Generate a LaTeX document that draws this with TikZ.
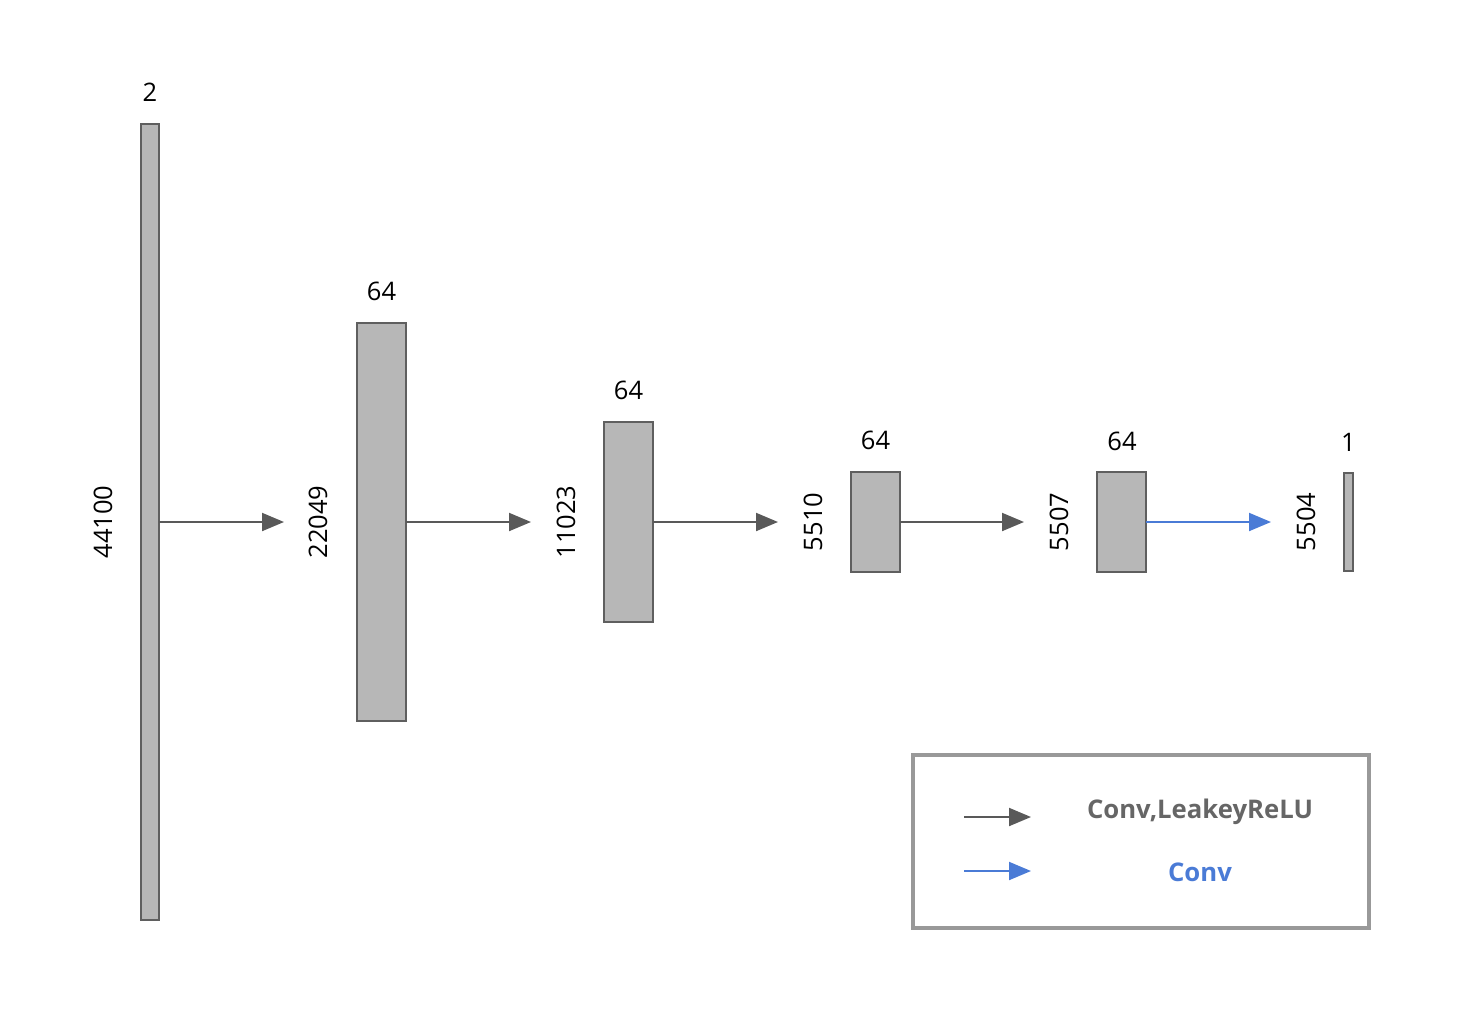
\documentclass[tikz,border=0pt]{standalone}
\usepackage{fontspec}
\setmainfont{Open Sans}
\usetikzlibrary{arrows.meta}
\definecolor{barfill}{HTML}{B7B7B7}
\definecolor{bardraw}{HTML}{5F5F5F}
\definecolor{arrgray}{HTML}{595959}
\definecolor{arrblue}{HTML}{4A7BD6}
\definecolor{legframe}{HTML}{999999}
\definecolor{legtext}{HTML}{666666}
\tikzset{
  bar/.style={draw=bardraw, fill=barfill, line width=2pt, inner sep=0pt, outer sep=0pt},
  lab/.style={inner sep=0pt, font=\fontsize{25.5}{30}\selectfont},
  vlab/.style={lab, rotate=90},
  conn/.style={draw=arrgray, line width=2pt, -{Triangle[length=22pt,width=18pt]}},
  connb/.style={conn, draw=arrblue, fill=arrblue},
  legtxt/.style={inner sep=0pt, font=\fontsize{25.7}{30}\selectfont\bfseries}
}
\begin{document}
\begin{tikzpicture}[x=1pt,y=-1pt]
\useasboundingbox (0,0) rectangle (1462,1020);
% bars
\node[bar, minimum width=18pt, minimum height=796pt] (b1) at (150,522) {};
\node[bar, minimum width=49pt, minimum height=398pt] (b2) at (381.5,522) {};
\node[bar, minimum width=49pt, minimum height=200pt] (b3) at (628.5,522) {};
\node[bar, minimum width=49pt, minimum height=100pt] (b4) at (875.5,522) {};
\node[bar, minimum width=49pt, minimum height=100pt] (b5) at (1121.5,522) {};
\node[bar, minimum width=9pt, minimum height=98pt] (b6) at (1348.5,522) {};
% top labels
\node[lab] (t1) at (150,92) {2};
\node[lab] (t2) at (381.5,291) {64};
\node[lab] (t3) at (628.5,390) {64};
\node[lab] (t4) at (875.5,440) {64};
\node[lab] (t5) at (1122,441) {64};
\node[lab] (t6) at (1348.5,442) {1};
% side labels
\node[vlab] (s1) at (103,522) {44100};
\node[vlab] (s2) at (318,522) {22049};
\node[vlab] (s3) at (566,522) {11023};
\node[vlab] (s4) at (813,522) {5510};
\node[vlab] (s5) at (1059,522) {5507};
\node[vlab] (s6) at (1306,522) {5504};
% arrow ends
\coordinate (e1) at (284,522);
\coordinate (e2) at (531,522);
\coordinate (e3) at (778,522);
\coordinate (e4) at (1024,522);
\coordinate (e5) at (1271,522);
\draw[conn] (b1.east) -- (e1);
\draw[conn] (b2.east) -- (e2);
\draw[conn] (b3.east) -- (e3);
\draw[conn] (b4.east) -- (e4);
\draw[connb] (b5.east) -- (e5);
% legend
\node[draw=legframe, line width=4pt, minimum width=456pt, minimum height=173pt, inner sep=0pt] (leg) at (1141,841.5) {};
\coordinate (la1) at (964,817);
\coordinate (la2) at (1031,817);
\coordinate (lb1) at (964,871);
\coordinate (lb2) at (1031,871);
\draw[conn] (la1) -- (la2);
\draw[connb] (lb1) -- (lb2);
\node[legtxt, text=legtext] (l1) at (1200,812) {Conv,LeakeyReLU};
\node[legtxt, text=arrblue] (l2) at (1200,872) {Conv};
\end{tikzpicture}
\end{document}
